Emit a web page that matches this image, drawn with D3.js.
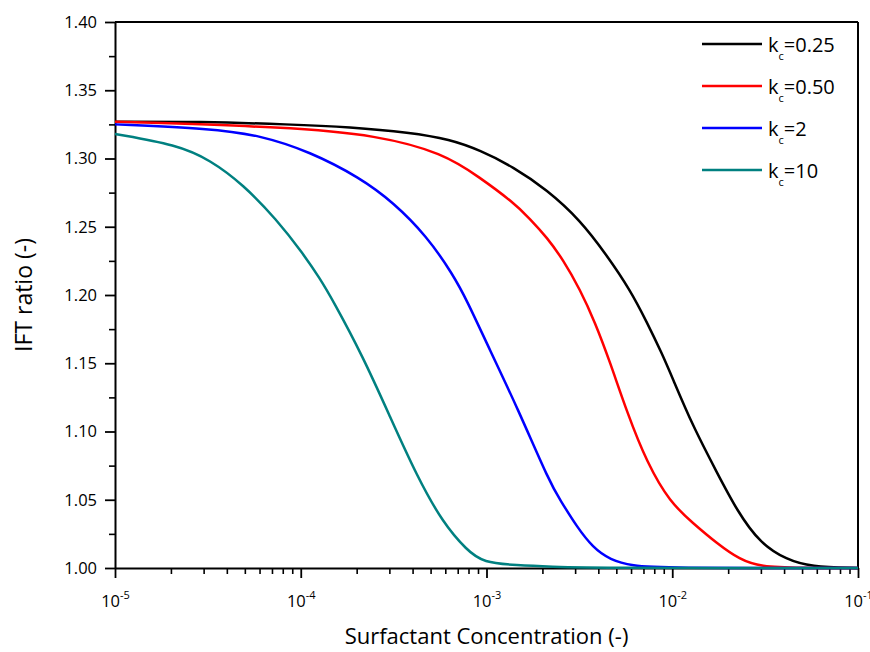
<!DOCTYPE html>
<html>
<head>
<meta charset="utf-8">
<script src="https://cdn.jsdelivr.net/npm/d3@7"></script>
<style>
  body { margin: 0; background: #fff; }
  text { font-family: "Open Sans", "Noto Sans", sans-serif; fill: #000; }
</style>
</head>
<body>
<div id="chart"></div>
<script>
// Values
const seriesLabels = ["0.25", "0.50", "2", "10"];
const seriesColors = ["#000000", "#ff0000", "#0000ff", "#008080"];

const kc025X = [1.0e-5, 2.87e-5, 8.75e-5, 1.84e-4, 3.87e-4, 6.36e-4, 9.23e-4, 1.39e-3, 2.12e-3, 3.19e-3, 4.45e-3, 5.92e-3, 7.31e-3, 8.81e-3, 9.97e-3, 1.29e-2, 1.74e-2, 2.23e-2, 2.97e-2, 4.15e-2, 5.51e-2, 1.0e-1];
const kc025Y = [1.327, 1.327, 1.325, 1.323, 1.319, 1.314, 1.306, 1.294, 1.277, 1.255, 1.229, 1.204, 1.180, 1.157, 1.140, 1.104, 1.070, 1.042, 1.018, 1.006, 1.001, 1.000];

const kc050X = [1.0e-5, 8.75e-5, 2.57e-4, 5.83e-4, 9.23e-4, 1.39e-3, 1.71e-3, 2.12e-3, 2.58e-3, 3.19e-3, 3.84e-3, 4.62e-3, 5.71e-3, 7.31e-3, 9.73e-3, 1.29e-2, 1.74e-2, 2.32e-2, 2.97e-2, 4.87e-2, 1.0e-1];
const kc050Y = [1.327, 1.323, 1.317, 1.304, 1.286, 1.268, 1.256, 1.242, 1.226, 1.204, 1.180, 1.151, 1.114, 1.077, 1.048, 1.033, 1.018, 1.006, 1.001, 1.000, 1.000];

const kc2X = [1.0e-5, 3.25e-5, 6.03e-5, 1.12e-4, 2.08e-4, 3.14e-4, 4.78e-4, 6.60e-4, 7.85e-4, 1.04e-3, 1.46e-3, 2.20e-3, 2.49e-3, 3.07e-3, 3.74e-3, 4.62e-3, 6.15e-3, 8.59e-3, 1.0e-1];
const kc2Y = [1.325, 1.322, 1.317, 1.305, 1.286, 1.268, 1.243, 1.215, 1.196, 1.160, 1.118, 1.062, 1.050, 1.030, 1.015, 1.006, 1.0015, 1.000, 1.000];

const kc10X = [1.0e-5, 2.16e-5, 3.25e-5, 4.89e-5, 7.45e-5, 1.02e-4, 1.27e-4, 1.49e-4, 2.16e-4, 3.02e-4, 4.23e-4, 5.83e-4, 7.85e-4, 9.58e-4, 1.46e-3, 2.20e-3, 4.08e-3, 1.0e-1];
const kc10Y = [1.318, 1.310, 1.299, 1.281, 1.255, 1.231, 1.212, 1.196, 1.155, 1.111, 1.067, 1.033, 1.013, 1.004, 1.002, 1.001, 1.000, 1.000];

const xMajorTicks = [1e-5, 1e-4, 1e-3, 1e-2, 1e-1];
const xTickExponents = ["-5", "-4", "-3", "-2", "-1"];
const yMajorTicks = [1.00, 1.05, 1.10, 1.15, 1.20, 1.25, 1.30, 1.35, 1.40];

const seriesX = [kc025X, kc050X, kc2X, kc10X];
const seriesY = [kc025Y, kc050Y, kc2Y, kc10Y];

// Layout
const width = 870, height = 652;
const margin = { top: 22, right: 12, bottom: 84, left: 115 };
const plotW = width - margin.left - margin.right;
const plotH = height - margin.top - margin.bottom;

const svg = d3.select("#chart").append("svg")
    .attr("width", width)
    .attr("height", height);

const g = svg.append("g")
    .attr("transform", `translate(${margin.left},${margin.top})`);

const x = d3.scaleLog().domain([1e-5, 1e-1]).range([0, plotW]);
const y = d3.scaleLinear().domain([1.0, 1.4]).range([plotH, 0]);

// Minor ticks: 2..9 of each decade, and halfway between y majors
const xMinorTicks = [];
for (let e = -5; e < -1; e++) {
    for (let m = 2; m <= 9; m++) xMinorTicks.push(m * Math.pow(10, e));
}
const yMinorTicks = yMajorTicks.slice(0, -1).map(v => v + 0.025);

g.append("g")
    .attr("transform", `translate(0,${plotH})`)
    .call(d3.axisBottom(x).tickValues(xMinorTicks).tickSize(6).tickFormat(""))
    .call(a => a.select(".domain").remove())
    .selectAll("line").attr("stroke-width", 1.6);

g.append("g")
    .call(d3.axisLeft(y).tickValues(yMinorTicks).tickSize(6).tickFormat(""))
    .call(a => a.select(".domain").remove())
    .selectAll("line").attr("stroke-width", 1.6);

// Major x axis with 10^n labels
const xAxis = g.append("g")
    .attr("transform", `translate(0,${plotH})`)
    .call(d3.axisBottom(x).tickValues(xMajorTicks).tickSize(10).tickSizeOuter(0).tickFormat(""));
xAxis.selectAll("line").attr("stroke-width", 1.8);
xAxis.select(".domain").attr("stroke-width", 2);
xAxis.selectAll(".tick").each(function(d, i) {
    const t = d3.select(this).append("text")
        .attr("y", 39)
        .attr("text-anchor", "middle")
        .style("font-size", "16.5px");
    t.append("tspan").text("10");
    t.append("tspan")
        .attr("dy", -8)
        .style("font-size", "11px")
        .text(xTickExponents[i]);
});

// Major y axis
const yAxis = g.append("g")
    .call(d3.axisLeft(y).tickValues(yMajorTicks).tickSize(10).tickSizeOuter(0).tickPadding(8)
        .tickFormat(d3.format(".2f")));
yAxis.selectAll("line").attr("stroke-width", 1.8);
yAxis.select(".domain").attr("stroke-width", 2);
yAxis.selectAll("text").style("font-size", "16.5px").attr("fill", "#000");

// Top and right frame
g.append("line").attr("x1", 0).attr("x2", plotW).attr("y1", 0).attr("y2", 0)
    .attr("stroke", "#000").attr("stroke-width", 2);
g.append("line").attr("x1", plotW).attr("x2", plotW).attr("y1", 0).attr("y2", plotH)
    .attr("stroke", "#000").attr("stroke-width", 2);

// Curves (basis spline smooths out reading noise)
const line = d3.line()
    .x(d => x(d[0]))
    .y(d => y(d[1]))
    .curve(d3.curveBasis);

seriesX.forEach((xs, i) => {
    const pts = xs.map((v, j) => [v, seriesY[i][j]]);
    g.append("path")
        .datum(pts)
        .attr("fill", "none")
        .attr("stroke", seriesColors[i])
        .attr("stroke-width", 2.5)
        .attr("d", line);
});

// Legend
const legend = svg.append("g").attr("transform", "translate(702,44)");
seriesLabels.forEach((lab, i) => {
    const row = legend.append("g").attr("transform", `translate(0,${i * 42})`);
    row.append("line")
        .attr("x1", 0).attr("x2", 60)
        .attr("stroke", seriesColors[i])
        .attr("stroke-width", 2.5);
    const t = row.append("text")
        .attr("x", 66)
        .attr("y", 8)
        .style("font-size", "20px");
    t.append("tspan").text("k");
    t.append("tspan").attr("dy", 8).style("font-size", "11px").text("c");
    t.append("tspan").attr("dy", -8).text("=" + lab);
});

// Axis titles
svg.append("text")
    .attr("x", margin.left + plotW / 2)
    .attr("y", 644)
    .attr("text-anchor", "middle")
    .style("font-size", "22px")
    .text("Surfactant Concentration (-)");

svg.append("text")
    .attr("transform", `translate(32,${margin.top + plotH / 2}) rotate(-90)`)
    .attr("text-anchor", "middle")
    .style("font-size", "23px")
    .text("IFT ratio (-)");
</script>
</body>
</html>
